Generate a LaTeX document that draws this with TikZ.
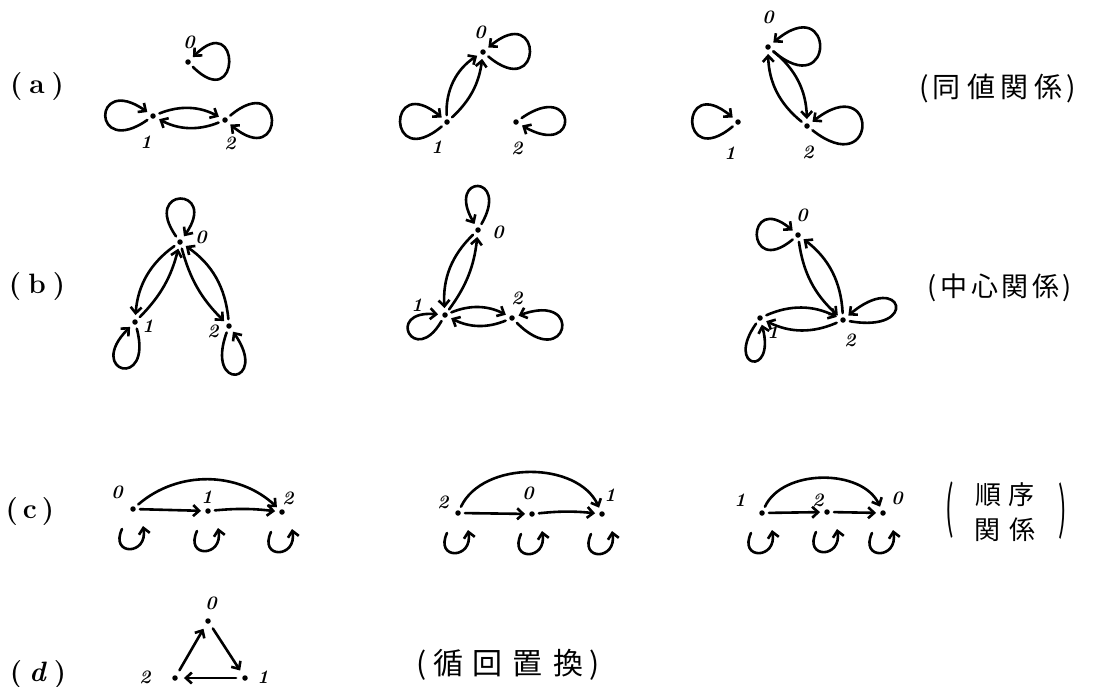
\documentclass[tikz,border=0pt]{standalone}
\usepackage{fontspec}
\newfontfamily\cjk{Noto Sans CJK JP}
\usetikzlibrary{arrows.meta}
\newcommand\cloop[1]{\draw[arr,shorten <=0pt,shorten >=0pt] ([shift={(-11,-20)}]#1.center) to[out=-115,in=-80,distance=30pt] ([shift={(10,-17)}]#1.center);}
\begin{document}
\begin{tikzpicture}[x=1pt,y=1pt,
  dot/.style={circle, fill=black, inner sep=0pt, minimum size=5.5pt},
  num/.style={font=\fontsize{19}{19}\selectfont\bfseries\itshape, inner sep=0pt},
  rowlab/.style={font=\fontsize{28}{28}\selectfont\bfseries, inner sep=0pt},
  cjklab/.style={inner sep=0pt},
  arr/.style={line width=2.6pt, -{Straight Barb[length=6pt,width=11pt]}, shorten >=4pt, shorten <=4pt, line cap=round}]
\useasboundingbox (0,0) rectangle (1104,-686);

% ---------------- row (a)
\node[rowlab] (ra) at (37,-87) {(\hspace{7pt}a\hspace{7pt})};
\node[dot] (a1n0) at (188,-62) {}; \node[num] (a1l0) at (189,-42) {0};
\node[dot] (a1n1) at (153,-116) {}; \node[num] (a1l1) at (146,-142) {1};
\node[dot] (a1n2) at (225,-120) {}; \node[num] (a1l2) at (230,-143) {2};
\draw[arr] (a1n0) to[out=-45,in=45,distance=72pt] (a1n0);
\draw[arr] (a1n1) to[out=-145,in=145,distance=72pt] (a1n1);
\draw[arr] (a1n2) to[out=40,in=-40,distance=76pt] (a1n2);
\draw[arr] (a1n1) to[bend left=25] (a1n2);
\draw[arr] (a1n2) to[bend left=25] (a1n1);

\node[dot] (a2n0) at (483,-52) {}; \node[num] (a2l0) at (480,-32) {0};
\node[dot] (a2n1) at (447,-122) {}; \node[num] (a2l1) at (437,-147) {1};
\node[dot] (a2n2) at (516,-122) {}; \node[num] (a2l2) at (517,-148) {2};
\draw[arr] (a2n0) to[out=-40,in=40,distance=76pt] (a2n0);
\draw[arr] (a2n1) to[out=-140,in=140,distance=76pt] (a2n1);
\draw[arr] (a2n2) to[out=35,in=-30,distance=72pt] (a2n2);
\draw[arr] (a2n1) to[bend left=30] (a2n0);
\draw[arr] (a2n1) to[bend right=20] (a2n0);

\node[dot] (a3n0) at (768,-47) {}; \node[num] (a3l0) at (768,-17) {0};
\node[dot] (a3n1) at (738,-122) {}; \node[num] (a3l1) at (730,-153) {1};
\node[dot] (a3n2) at (807,-126) {}; \node[num] (a3l2) at (808,-152) {2};
\draw[arr] (a3n0) to[out=-40,in=40,distance=85pt] (a3n0);
\draw[arr] (a3n1) to[out=-140,in=140,distance=74pt] (a3n1);
\draw[arr] (a3n2) to[out=-38,in=38,distance=88pt] (a3n2);
\draw[arr] (a3n2) to[bend left=25] (a3n0);
\draw[arr] (a3n0) to[bend left=25] (a3n2);

\node[cjklab, font=\cjk\fontsize{28}{28}\selectfont] (ta) at (998,-88) {(\hspace{4pt}同\hspace{6pt}値\hspace{6pt}関\hspace{6pt}係\hspace{4pt})};

% ---------------- row (b)
\node[rowlab] (rb) at (37,-287) {(\hspace{7pt}b\hspace{7pt})};
\node[dot] (b1n0) at (180,-242) {}; \node[num] (b1l0) at (201,-237) {0};
\node[dot] (b1n1) at (135,-322) {}; \node[num] (b1l1) at (148,-326) {1};
\node[dot] (b1n2) at (229,-326) {}; \node[num] (b1l2) at (213,-331) {2};
\draw[arr] (b1n0) to[out=125,in=55,distance=65pt] (b1n0);
\draw[arr] (b1n1) to[out=-75,in=-135,distance=68pt] (b1n1);
\draw[arr] (b1n2) to[out=-110,in=-55,distance=68pt] (b1n2);
\draw[arr] (b1n0) to[bend right=25] (b1n1);
\draw[arr] (b1n1) to[bend right=15] (b1n0);
\draw[arr] (b1n0) to[bend right=15] (b1n2);
\draw[arr] (b1n2) to[bend right=25] (b1n0);

\node[dot] (b2n0) at (478,-230) {}; \node[num] (b2l0) at (498,-232) {0};
\node[dot] (b2n1) at (445,-315) {}; \node[num] (b2l1) at (417,-305) {1};
\node[dot] (b2n2) at (512,-318) {}; \node[num] (b2l2) at (517,-298) {2};
\draw[arr] (b2n0) to[out=60,in=120,distance=62pt] (b2n0);
\draw[arr] (b2n1) to[out=-120,in=175,distance=58pt] (b2n1);
\draw[arr] (b2n2) to[out=-45,in=20,distance=75pt] (b2n2);
\draw[arr] (b2n0) to[bend right=25] (b2n1);
\draw[arr] (b2n1) to[bend right=15] (b2n0);
\draw[arr] (b2n1) to[bend left=25] (b2n2);
\draw[arr] (b2n2) to[bend left=25] (b2n1);

\node[dot] (b3n0) at (798,-235) {}; \node[num] (b3l0) at (802,-215) {0};
\node[dot] (b3n1) at (760,-318) {}; \node[num] (b3l1) at (773,-332) {1};
\node[dot] (b3n2) at (843,-320) {}; \node[num] (b3l2) at (850,-340) {2};
\draw[arr] (b3n0) to[out=-140,in=140,distance=66pt] (b3n0);
\draw[arr] (b3n1) to[out=-125,in=-75,distance=59pt] (b3n1);
\draw[arr] (b3n2) to[out=-10,in=40,distance=75pt] (b3n2);
\draw[arr] (b3n0) to[bend right=20] (b3n2);
\draw[arr] (b3n2) to[bend right=25] (b3n0);
\draw[arr] (b3n1) to[bend left=25] (b3n2);
\draw[arr] (b3n2) to[bend left=25] (b3n1);

\node[cjklab, font=\cjk\fontsize{27}{27}\selectfont] (tb) at (1000,-288) {(\hspace{3pt}中\hspace{4pt}心\hspace{4pt}関\hspace{4pt}係\hspace{3pt})};

% ---------------- row (c)
\node[rowlab] (rc) at (30,-512) {(\hspace{5pt}c\hspace{5pt})};
\node[dot] (c1n0) at (133,-509) {}; \node[num] (c1l0) at (117,-492) {0};
\node[dot] (c1n1) at (208,-511) {}; \node[num] (c1l1) at (207,-497) {1};
\node[dot] (c1n2) at (282,-512) {}; \node[num] (c1l2) at (288,-498) {2};
\draw[arr] (c1n0) to[bend left=42] (c1n2);
\draw[arr] (c1n0) -- (c1n1);
\draw[arr] (c1n1) to[bend left=6] (c1n2);
\cloop{c1n0}\cloop{c1n1}\cloop{c1n2}

\node[dot] (c2n2) at (458,-513) {}; \node[num] (c2l2) at (443,-502) {2};
\node[dot] (c2n0) at (532,-514) {}; \node[num] (c2l0) at (528,-493) {0};
\node[dot] (c2n1) at (602,-514) {}; \node[num] (c2l1) at (610,-495) {1};
\draw[arr] (c2n2) to[bend left=65] (c2n1);
\draw[arr] (c2n2) -- (c2n0);
\draw[arr] (c2n0) to[bend left=6] (c2n1);
\cloop{c2n2}\cloop{c2n0}\cloop{c2n1}

\node[dot] (c3n1) at (762,-513) {}; \node[num] (c3l1) at (740,-500) {1};
\node[dot] (c3n2) at (827,-512) {}; \node[num] (c3l2) at (818,-500) {2};
\node[dot] (c3n0) at (883,-513) {}; \node[num] (c3l0) at (897,-498) {0};
\draw[arr] (c3n1) to[bend left=65] (c3n0);
\draw[arr] (c3n1) -- (c3n2);
\draw[arr] (c3n2) -- (c3n0);
\cloop{c3n1}\cloop{c3n2}\cloop{c3n0}

\node[cjklab, font=\cjk\fontsize{26}{35}\selectfont, align=center] (tc) at (1005,-512) {順\hspace{8pt}序\\関\hspace{10pt}係};
\node[cjklab, font=\cjk\fontsize{56}{56}\selectfont] (tcl) at (950,-510) {\scalebox{0.45}[1]{(}};
\node[cjklab, font=\cjk\fontsize{56}{56}\selectfont] (tcr) at (1063,-511) {\scalebox{0.45}[1]{)}};

% ---------------- row (d)
\node[rowlab] (rd) at (38,-675) {(\hspace{7pt}\textit{d}\hspace{7pt})};
\node[dot] (dn0) at (208,-621) {}; \node[num] (dl0) at (211,-603) {0};
\node[dot] (dn1) at (245,-678) {}; \node[num] (dl1) at (263,-677) {1};
\node[dot] (dn2) at (175,-678) {}; \node[num] (dl2) at (145,-677) {2};
\draw[arr, shorten <=6pt, shorten >=6pt] (dn2) -- (dn0);
\draw[arr, shorten <=6pt, shorten >=6pt] (dn0) -- (dn1);
\draw[arr, shorten <=6pt, shorten >=6pt] (dn1) -- (dn2);

\node[cjklab, font=\cjk\fontsize{30}{30}\selectfont] (td) at (508,-665) {(\hspace{6pt}循\hspace{10pt}回\hspace{10pt}置\hspace{10pt}換\hspace{6pt})};
\end{tikzpicture}
\end{document}
